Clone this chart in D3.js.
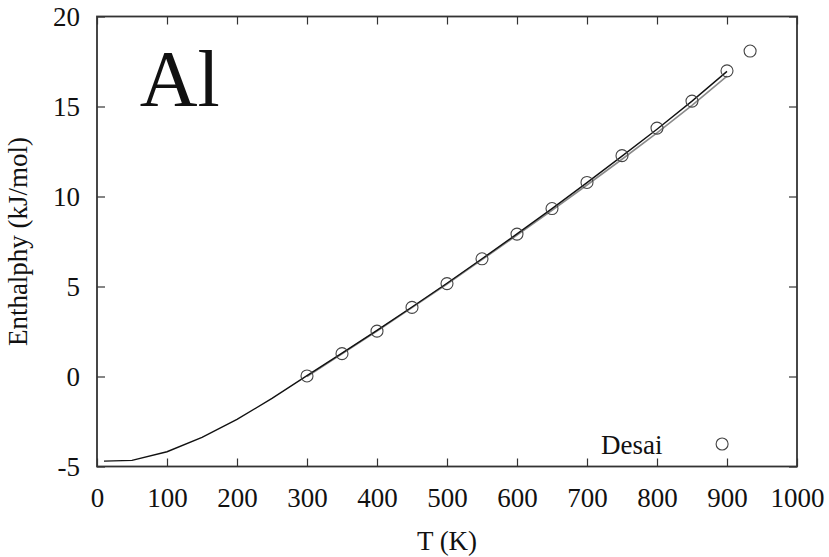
<!DOCTYPE html>
<html>
<head>
<meta charset="utf-8">
<script src="https://cdn.jsdelivr.net/npm/d3@7"></script>
<style>
  body { margin: 0; background: #fff; }
  svg text { font-family: "Liberation Serif", "DejaVu Serif", serif; fill: #111; }
</style>
</head>
<body>
<div id="chart"></div>
<script>
// Calculated enthalpy (black line)
const calcT = [10, 50, 100, 150, 200, 250, 300, 350, 400, 450, 500, 550, 600, 650, 700, 750, 800, 850, 900];
const calcH = [-4.70, -4.66, -4.18, -3.38, -2.38, -1.22, 0.05, 1.30, 2.56, 3.86, 5.18, 6.54, 7.92, 9.33, 10.77, 12.24, 13.74, 15.30, 16.95];

// Second calculation (gray line)
const grayT = [300, 350, 400, 450, 500, 550, 600, 650, 700, 750, 800, 850, 900];
const grayH = [0.0, 1.26, 2.53, 3.83, 5.14, 6.49, 7.85, 9.23, 10.64, 12.07, 13.53, 15.06, 16.69];

// Desai reference points
const desaiT = [300, 350, 400, 450, 500, 550, 600, 650, 700, 750, 800, 850, 900, 933];
const desaiH = [0.03, 1.27, 2.52, 3.84, 5.16, 6.54, 7.91, 9.33, 10.78, 12.27, 13.80, 15.30, 16.98, 18.08];

const xTicks = [0, 100, 200, 300, 400, 500, 600, 700, 800, 900, 1000];
const yTicks = [-5, 0, 5, 10, 15, 20];

const W = 829, H = 557;
const margin = {top: 16.5, right: 32, bottom: 90.5, left: 97};
const w = W - margin.left - margin.right;
const h = H - margin.top - margin.bottom;

const svg = d3.select('#chart').append('svg')
    .attr('width', W)
    .attr('height', H);

const g = svg.append('g')
    .attr('transform', `translate(${margin.left},${margin.top})`);

const x = d3.scaleLinear().domain([0, 1000]).range([0, w]);
const y = d3.scaleLinear().domain([-5, 20]).range([h, 0]);

// Axes: inward ticks on all four sides
const tickLen = 8;
const axisColor = '#333';
const fmt = d => String(d);

function styleAxis(ax) {
    ax.attr('font-family', 'Liberation Serif').attr('font-size', 27);
    ax.select('.domain').remove();
    ax.selectAll('text').attr('fill', '#111');
    ax.selectAll('line').attr('stroke', axisColor).attr('stroke-width', 1.2);
}

g.append('g')
    .attr('transform', `translate(0,${h})`)
    .call(d3.axisBottom(x).tickValues(xTicks).tickFormat(fmt).tickSizeInner(-tickLen).tickSizeOuter(0).tickPadding(21))
    .call(styleAxis);

g.append('g')
    .call(d3.axisTop(x).tickValues(xTicks).tickSizeInner(-tickLen).tickSizeOuter(0).tickFormat(''))
    .call(styleAxis);

g.append('g')
    .call(d3.axisLeft(y).tickValues(yTicks).tickFormat(fmt).tickSizeInner(-tickLen).tickSizeOuter(0).tickPadding(17))
    .call(styleAxis);

g.append('g')
    .attr('transform', `translate(${w},0)`)
    .call(d3.axisRight(y).tickValues(yTicks).tickSizeInner(-tickLen).tickSizeOuter(0).tickFormat(''))
    .call(styleAxis);

// Frame
g.append('rect')
    .attr('width', w)
    .attr('height', h)
    .attr('fill', 'none')
    .attr('stroke', axisColor)
    .attr('stroke-width', 1.8);

// Lines
const line = d3.line()
    .x(d => x(d[0]))
    .y(d => y(d[1]));

g.append('path')
    .datum(d3.zip(grayT, grayH))
    .attr('d', line)
    .attr('fill', 'none')
    .attr('stroke', '#8a8a8a')
    .attr('stroke-width', 1.6);

g.append('path')
    .datum(d3.zip(calcT, calcH))
    .attr('d', line)
    .attr('fill', 'none')
    .attr('stroke', '#111')
    .attr('stroke-width', 1.4);

// Desai points
g.selectAll('.pt')
    .data(d3.zip(desaiT, desaiH))
    .enter().append('circle')
    .attr('class', 'pt')
    .attr('cx', d => x(d[0]))
    .attr('cy', d => y(d[1]))
    .attr('r', 6)
    .attr('fill', 'none')
    .attr('stroke', '#444')
    .attr('stroke-width', 1.1);

// Legend
g.append('text')
    .attr('x', x(808))
    .attr('y', y(-4.3))
    .attr('text-anchor', 'end')
    .attr('font-size', 27)
    .text('Desai');

g.append('circle')
    .attr('cx', x(893))
    .attr('cy', y(-3.75))
    .attr('r', 6)
    .attr('fill', 'none')
    .attr('stroke', '#444')
    .attr('stroke-width', 1.1);

// Big element label
g.append('text')
    .attr('x', x(61))
    .attr('y', y(15.05))
    .attr('font-size', 80)
    .text('Al');

// Axis titles
svg.append('text')
    .attr('x', margin.left + w / 2)
    .attr('y', 550)
    .attr('text-anchor', 'middle')
    .attr('font-size', 27)
    .text('T (K)');

svg.append('text')
    .attr('transform', `translate(27,${margin.top + h / 2}) rotate(-90)`)
    .attr('text-anchor', 'middle')
    .attr('font-size', 27)
    .text('Enthalphy (kJ/mol)');
</script>
</body>
</html>
